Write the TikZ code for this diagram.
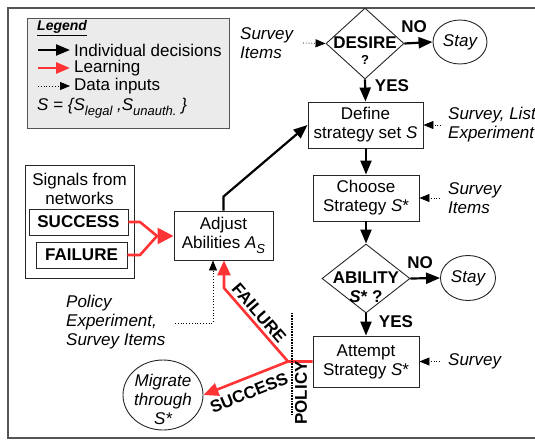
\documentclass[tikz,border=0pt]{standalone}
\usepackage{fontspec}
\setmainfont{Liberation Sans}
\usetikzlibrary{arrows.meta,shapes.geometric}
\definecolor{lred}{HTML}{FF3333}
\definecolor{frameg}{HTML}{555555}
\definecolor{legfill}{HTML}{EBEBEB}
\newcommand{\sbs}[1]{\raisebox{-0.5ex}{\fontsize{13}{13}\selectfont #1}}
\begin{document}
\begin{tikzpicture}[x=1pt,y=-1pt,
  every node/.style={font=\fontsize{17}{19}\selectfont},
  box/.style={draw=black!85, line width=0.9pt, fill=white, inner sep=0pt, align=center},
  dia/.style={diamond, draw=black!85, line width=0.9pt, inner sep=0pt},
  ell/.style={ellipse, draw=black!85, line width=0.9pt, inner sep=0pt},
  dec/.style={draw=black, line width=2.2pt, -{Triangle[length=14pt,width=11pt]}},
  learn/.style={draw=lred, line width=2.6pt, line join=round, -{Triangle[length=15pt,width=13pt]}},
  redline/.style={draw=lred, line width=2.6pt, line join=round},
  data/.style={draw=black, line width=0.8pt, dotted, -{Triangle[length=10pt,width=8pt]}},
  lbl/.style={font=\fontsize{17}{19}\selectfont\bfseries, inner sep=0pt},
  txt/.style={inner sep=0pt, align=left, font=\fontsize{17}{19}\selectfont\itshape},
  plain/.style={inner sep=0pt, align=center}]
\useasboundingbox (0,0) rectangle (535,439);
% frame
\draw[frameg, line width=1.6pt] (535,8) -- (8,8) -- (8,438) -- (535,438);

% legend
\node[draw=frameg, fill=legfill, line width=1pt, minimum width=202, minimum height=110, inner sep=0pt] (legend) at (128,73) {};
\node[anchor=west, inner sep=0pt, font=\fontsize{14}{16}\selectfont\bfseries\itshape] (legtitle) at (37,28) {\underline{Legend}};
\coordinate (l1a) at (38,50); \coordinate (l1b) at (70,50);
\coordinate (l2a) at (38,68); \coordinate (l2b) at (70,68);
\coordinate (l3a) at (38,86); \coordinate (l3b) at (70,86);
\draw[dec] (l1a) -- (l1b);
\draw[learn, -{Triangle[length=14pt,width=11pt]}] (l2a) -- (l2b);
\draw[data] (l3a) -- (l3b);
\node[anchor=west, inner sep=0pt] (lt1) at (74,50) {Individual decisions};
\node[anchor=west, inner sep=0pt] (lt2) at (74,68) {Learning};
\node[anchor=west, inner sep=0pt] (lt3) at (74,86) {Data inputs};
\node[anchor=west, inner sep=0pt, font=\fontsize{17}{19}\selectfont\itshape] (lt4) at (37,108) {S = \{S\sbs{legal} ,S\sbs{unauth.} \}};

% main flow
\node[dia, minimum width=78, minimum height=71] (desire) at (365,43.5) {};
\node[lbl] (desiret) at (365,43) {DESIRE};
\node[lbl, font=\fontsize{13}{15}\selectfont\bfseries] (desireq) at (365,60) {?};
\node[ell, minimum width=54, minimum height=44] (stay1) at (460,42) {\itshape Stay};
\node[lbl] (no1) at (414,27) {NO};
\draw[dec] (desire.east) -- (stay1.west);
\node[txt, anchor=west] (si1) at (240,43) {Survey\\Items};
\coordinate (si1e) at (303,43);
\draw[data] (si1e) -- (desire.west);

\node[box, minimum width=115, minimum height=46] (define) at (365.5,125) {Define\\strategy set \textit{S}};
\draw[dec] (desire.south) -- (define.north);
\node[lbl] (yes1) at (392,86) {YES};
\coordinate (d1) at (441,125);
\draw[data] (d1) -- (define.east);
\node[txt, anchor=west] (dt1) at (448,125) {Survey, List\\Experiment};

\node[box, minimum width=106, minimum height=46] (choose) at (366,198) {Choose\\Strategy \textit{S}*};
\draw[dec] (define.south -| choose.north) -- (choose.north);
\coordinate (d2) at (440,198);
\draw[data] (d2) -- (choose.east);
\node[txt, anchor=west] (dt2) at (448,198) {Survey\\Items};

\node[dia, minimum width=88, minimum height=69] (ability) at (366,278.5) {};
\node[lbl] (abilityt) at (366,278) {ABILITY};
\node[lbl] (abilityq) at (366,297) {\textit{S}* ?};
\draw[dec] (choose.south) -- (ability.north);
\node[ell, minimum width=55, minimum height=45] (stay2) at (468,278) {\itshape Stay};
\node[lbl] (no2) at (420,263) {NO};
\draw[dec] (ability.east) -- (stay2.west);

\node[box, minimum width=106, minimum height=51] (attempt) at (366,361.5) {Attempt\\Strategy \textit{S}*};
\draw[dec] (ability.south) -- (attempt.north);
\node[lbl] (yes2) at (396,322) {YES};
\coordinate (d3) at (440,361.5);
\draw[data] (d3) -- (attempt.east);
\node[txt, anchor=west] (dt3) at (448,361.5) {Survey};

% adjust abilities
\node[box, minimum width=99, minimum height=49] (adjust) at (223.5,235.5) {Adjust\\Abilities \textit{A}\sbs{\textit{S}}};
\draw[dec, line join=miter] (adjust.north) -- ++(0,-14) -- (define.west);

% signals
\node[box, minimum width=109, minimum height=113] (signals) at (79.5,221.5) {};
\node[plain] (signalst) at (79.5,188.5) {Signals from\\networks};
\node[box, minimum width=99, minimum height=26, font=\fontsize{17}{19}\selectfont\bfseries] (succ) at (78.5,222) {SUCCESS};
\node[box, minimum width=91, minimum height=26, font=\fontsize{17}{19}\selectfont\bfseries] (fail) at (81.5,255) {FAILURE};
\coordinate (merge) at (157,236);
\draw[redline] (succ.east) -- (140,222) -- (merge);
\draw[redline] (fail.east) -- (140,255) -- (merge);
\draw[learn, -{Triangle[length=16pt,width=16pt]}] (merge) -- (adjust.west |- merge);

% policy input
\node[txt, anchor=west] (pol) at (66,322) {Policy\\Experiment,\\Survey Items};
\coordinate (pe) at (175,323);
\draw[data] (pe) -| ([xshift=-10.5pt]adjust.south);

% outcomes
\node[ell, minimum width=80, minimum height=70] (migrate) at (163,395) {};
\node[plain, font=\fontsize{17}{19}\selectfont\itshape] (migratet) at (163,399) {Migrate\\through\\\textit{S}*};
\coordinate (junc) at (288,361.5);
\coordinate (fbend) at (224,288);
\draw[learn] (attempt.west) -- (junc) -- (fbend) -- (fbend |- adjust.south);
\draw[learn] (junc) -- (migrate.east);
\node[lbl, rotate=-49] (failt) at (259,313) {FAILURE};
\node[lbl, rotate=22] (succt) at (249,393) {SUCCESS};
\draw[line width=2pt, dash pattern=on 0.8pt off 0.8pt] (292,313) -- (292,414);
\node[lbl, rotate=90] (policyt) at (301,393) {POLICY};
\end{tikzpicture}
\end{document}
